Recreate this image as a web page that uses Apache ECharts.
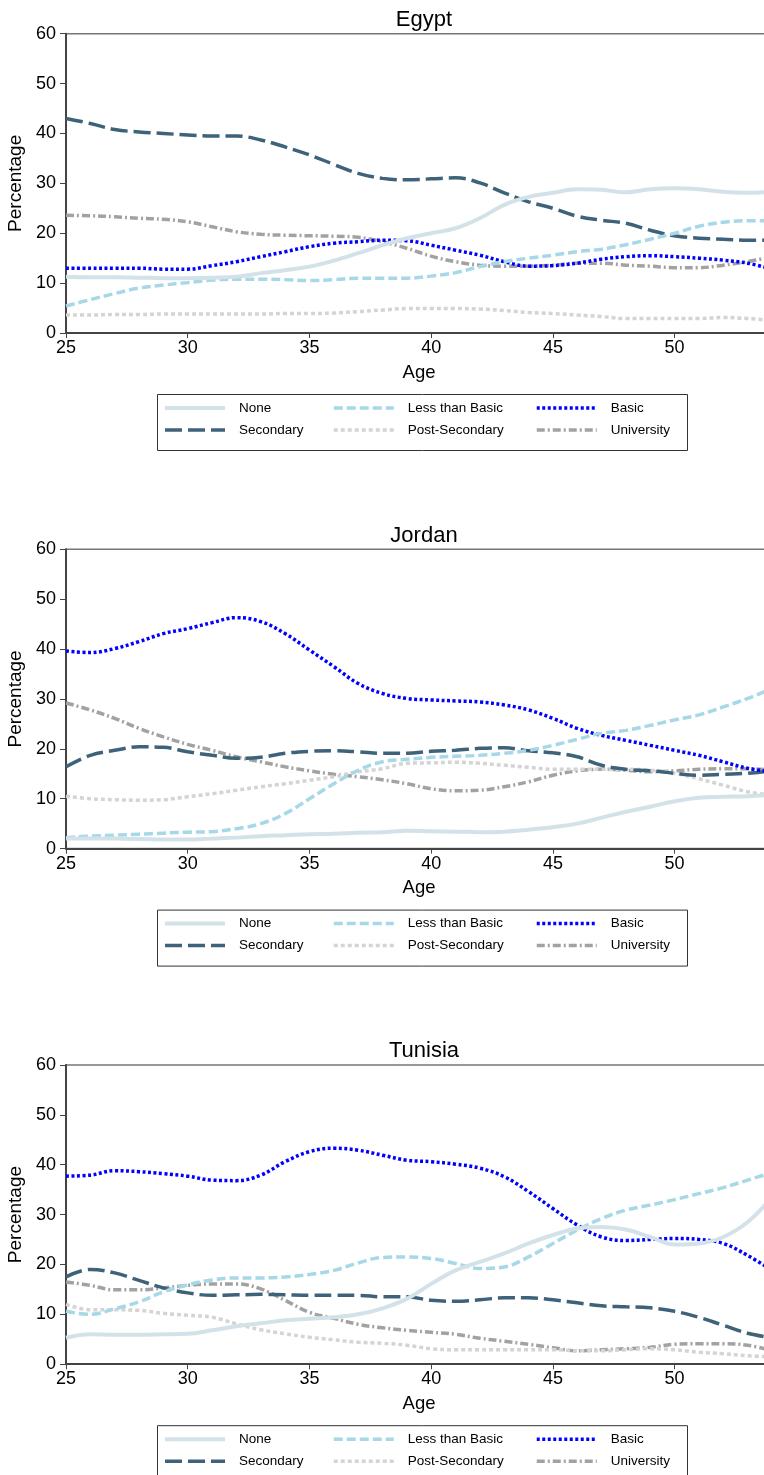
<!DOCTYPE html>
<html>
<head>
<meta charset="utf-8">
<style>
  html, body { margin: 0; padding: 0; background: #fff; }
  #chart { width: 764px; height: 1475px; }
</style>
</head>
<body>
<div id="chart"></div>
<script src="https://cdn.jsdelivr.net/npm/echarts@6/dist/echarts.min.js"></script>
<script>
// ages on the x axis
var ages = [25, 26, 27, 28, 29, 30, 31, 32, 33, 34, 35, 36, 37, 38, 39,
            40, 41, 42, 43, 44, 45, 46, 47, 48, 49, 50, 51, 52, 53, 54];
var countries = ['Egypt', 'Jordan', 'Tunisia'];
var levels = ['None', 'Less than Basic', 'Basic', 'Secondary', 'Post-Secondary', 'University'];

// Egypt
var egyptNone      = [11.3, 11.2, 11.2, 11.1, 11.0, 11.0, 11.1, 11.3, 12.0, 12.6, 13.3, 14.5, 16.0, 17.6, 19.0, 20.0, 21.0, 23.0, 25.7, 27.3, 28.1, 28.8, 28.7, 28.2, 28.8, 29.0, 28.8, 28.3, 28.1, 28.3];
var egyptLessBasic = [5.4, 6.7, 7.9, 9.0, 9.6, 10.1, 10.6, 10.8, 10.8, 10.7, 10.5, 10.7, 11.0, 11.0, 11.0, 11.4, 12.1, 13.3, 14.3, 15.0, 15.6, 16.3, 16.8, 17.7, 18.8, 20.0, 21.4, 22.2, 22.5, 22.5];
var egyptBasic     = [13.0, 13.0, 13.0, 13.0, 12.8, 12.8, 13.5, 14.3, 15.3, 16.3, 17.3, 18.0, 18.3, 18.6, 18.5, 17.6, 16.6, 15.6, 14.3, 13.4, 13.5, 14.0, 14.8, 15.3, 15.5, 15.3, 15.0, 14.6, 14.0, 12.8];
var egyptSecondary = [43.0, 42.0, 40.8, 40.3, 40.0, 39.7, 39.5, 39.5, 38.7, 37.3, 35.7, 33.8, 32.0, 31.0, 30.7, 30.9, 31.1, 30.1, 28.1, 26.3, 25.0, 23.4, 22.6, 22.0, 20.6, 19.5, 19.0, 18.8, 18.6, 18.6];
var egyptPostSec   = [3.6, 3.6, 3.7, 3.7, 3.8, 3.8, 3.8, 3.8, 3.8, 3.9, 3.9, 4.0, 4.3, 4.6, 4.9, 4.9, 4.9, 4.8, 4.5, 4.1, 3.9, 3.6, 3.3, 2.9, 2.9, 2.9, 2.9, 3.1, 2.9, 2.5];
var egyptUniv      = [23.6, 23.5, 23.3, 23.0, 22.8, 22.3, 21.3, 20.3, 19.8, 19.6, 19.5, 19.4, 19.2, 18.3, 17.0, 15.4, 14.3, 13.6, 13.4, 13.4, 13.6, 14.0, 14.0, 13.6, 13.4, 13.1, 13.1, 13.6, 14.3, 15.3];

// Jordan
var jordanNone      = [2.0, 2.0, 2.0, 1.9, 1.8, 1.8, 2.0, 2.2, 2.5, 2.7, 2.9, 3.0, 3.2, 3.3, 3.6, 3.5, 3.4, 3.3, 3.4, 3.8, 4.3, 5.0, 6.2, 7.4, 8.4, 9.5, 10.2, 10.4, 10.5, 10.8];
var jordanLessBasic = [2.2, 2.5, 2.7, 2.9, 3.1, 3.3, 3.4, 4.0, 5.0, 7.0, 10.0, 13.0, 15.7, 17.4, 17.9, 18.3, 18.5, 18.7, 19.1, 19.7, 20.7, 21.9, 23.1, 23.7, 24.7, 25.8, 26.8, 28.4, 30.1, 32.1];
var jordanBasic     = [39.6, 39.3, 40.1, 41.5, 43.1, 44.1, 45.3, 46.3, 45.5, 43.1, 39.8, 36.5, 33.1, 31.1, 30.1, 29.8, 29.6, 29.4, 28.8, 27.8, 26.1, 24.1, 22.7, 21.7, 20.7, 19.7, 18.7, 17.4, 16.1, 15.4];
var jordanSecondary = [16.4, 18.7, 19.7, 20.4, 20.3, 19.4, 18.7, 18.1, 18.3, 19.1, 19.5, 19.6, 19.4, 19.1, 19.1, 19.5, 19.7, 20.1, 20.2, 19.6, 19.2, 18.4, 16.7, 15.9, 15.6, 15.1, 14.7, 14.9, 15.1, 15.6];
var jordanPostSec   = [10.5, 10.0, 9.8, 9.7, 9.8, 10.4, 11.0, 11.7, 12.4, 13.0, 13.7, 14.4, 15.4, 16.0, 17.1, 17.2, 17.3, 17.1, 16.7, 16.3, 15.9, 15.9, 15.9, 15.9, 15.7, 15.1, 14.0, 12.7, 11.4, 10.7];
var jordanUniv      = [29.2, 27.8, 26.1, 24.1, 22.4, 20.9, 19.7, 18.4, 17.4, 16.4, 15.6, 14.9, 14.4, 13.8, 13.0, 12.0, 11.6, 11.7, 12.4, 13.4, 14.7, 15.6, 15.9, 15.7, 15.4, 15.6, 15.9, 16.0, 16.0, 15.7];

// Tunisia
var tunisiaNone      = [5.3, 6.0, 5.9, 5.9, 6.0, 6.1, 6.8, 7.6, 8.2, 8.8, 9.1, 9.4, 10.0, 11.2, 13.1, 16.1, 18.8, 20.5, 22.2, 24.2, 25.9, 27.2, 27.5, 27.0, 25.5, 24.0, 24.2, 25.5, 28.5, 33.5];
var tunisiaLessBasic = [10.6, 10.0, 11.1, 12.5, 14.5, 15.9, 16.9, 17.3, 17.3, 17.5, 18.0, 18.8, 20.3, 21.4, 21.5, 21.2, 20.2, 19.2, 19.5, 21.5, 24.2, 26.9, 29.2, 30.9, 31.9, 33.0, 34.2, 35.4, 36.9, 38.4];
var tunisiaBasic     = [37.7, 37.9, 38.8, 38.6, 38.2, 37.7, 36.9, 36.8, 37.9, 40.6, 42.6, 43.3, 42.9, 41.9, 40.9, 40.6, 40.1, 39.3, 37.6, 34.6, 31.2, 27.9, 25.5, 24.8, 25.0, 25.2, 25.0, 24.2, 21.8, 18.8];
var tunisiaSecondary = [17.5, 19.0, 18.3, 16.8, 15.3, 14.3, 13.8, 13.9, 14.0, 13.9, 13.8, 13.8, 13.8, 13.5, 13.5, 12.8, 12.6, 12.9, 13.3, 13.3, 12.9, 12.3, 11.7, 11.5, 11.3, 10.6, 9.4, 7.8, 6.2, 5.3];
var tunisiaPostSec   = [12.0, 10.9, 10.9, 10.8, 10.2, 9.8, 9.4, 8.1, 6.9, 6.1, 5.4, 4.9, 4.4, 4.2, 3.8, 3.1, 2.9, 2.9, 2.9, 2.9, 2.9, 2.7, 2.7, 2.9, 3.1, 2.9, 2.4, 2.1, 1.7, 1.5];
var tunisiaUniv      = [16.5, 15.8, 14.9, 14.9, 15.3, 15.8, 16.1, 16.1, 15.1, 12.8, 10.4, 9.2, 8.0, 7.3, 6.8, 6.4, 6.0, 5.2, 4.6, 4.0, 3.3, 2.7, 2.9, 3.1, 3.4, 4.0, 4.1, 4.1, 3.8, 2.7];

var yTicks = [0, 10, 20, 30, 40, 50, 60];
var xTicks = [25, 30, 35, 40, 45, 50];

var panelData = [
    [egyptNone, egyptLessBasic, egyptBasic, egyptSecondary, egyptPostSec, egyptUniv],
    [jordanNone, jordanLessBasic, jordanBasic, jordanSecondary, jordanPostSec, jordanUniv],
    [tunisiaNone, tunisiaLessBasic, tunisiaBasic, tunisiaSecondary, tunisiaPostSec, tunisiaUniv]
];

// line look for each education level
var lineLook = {
    'None':            { color: '#d3e2e9', type: 'solid',       width: 4 },
    'Less than Basic': { color: '#a6d8e7', type: [9, 4],        width: 3.5 },
    'Basic':           { color: '#0000ff', type: [3, 2.5],      width: 3.5 },
    'Secondary':       { color: '#3d6279', type: [17, 6],       width: 3.5 },
    'Post-Secondary':  { color: '#d4d4d4', type: [4, 3],        width: 3.5 },
    'University':      { color: '#a2a2a2', type: [8, 3, 2, 3],  width: 3.5 }
};

var FONT = 'Liberation Sans, Arial, Helvetica, sans-serif';
var STEP = 515.6;
var grids = [], xAxes = [], yAxes = [], titles = [], legends = [], series = [], graphics = [];

countries.forEach(function (country, p) {
    var off = p * STEP;
    grids.push({
        left: 66, top: 33.7 + off, width: 706, height: 299.3,
        outerBoundsMode: 'none', containLabel: false,
        show: true, borderColor: '#777', borderWidth: 1.5, backgroundColor: 'transparent'
    });
    titles.push({
        text: country, left: 419, top: 4 + off, textAlign: 'center',
        textStyle: { fontFamily: FONT, fontSize: 22, fontWeight: 'normal', color: '#000' }
    });
    xAxes.push({
        type: 'value', gridIndex: p, min: xTicks[0], max: 54, interval: 5,
        name: 'Age', nameLocation: 'middle', nameGap: 30,
        nameTextStyle: { fontFamily: FONT, fontSize: 18.5, color: '#000' },
        axisLine: { lineStyle: { color: '#444', width: 2 } },
        axisTick: { length: 5, lineStyle: { color: '#444', width: 1 } },
        axisLabel: { fontFamily: FONT, fontSize: 18, color: '#000', margin: 6, showMaxLabel: false },
        splitLine: { show: false }
    });
    yAxes.push({
        type: 'value', gridIndex: p, min: yTicks[0], max: yTicks[yTicks.length - 1], interval: 10,
        name: 'Percentage', nameLocation: 'middle', nameGap: 33,
        nameTextStyle: { fontFamily: FONT, fontSize: 19, color: '#000' },
        axisLine: { show: true, lineStyle: { color: '#444', width: 2 } },
        axisTick: { show: true, length: 6, lineStyle: { color: '#444', width: 1 } },
        axisLabel: { fontFamily: FONT, fontSize: 18, color: '#000', margin: 10 },
        splitLine: { show: false }
    });
    levels.forEach(function (lvl, k) {
        var vals = panelData[p][k];
        var look = lineLook[lvl];
        series.push({
            name: lvl, type: 'line', xAxisIndex: p, yAxisIndex: p,
            data: ages.map(function (a, i) { return [a, vals[i]]; }),
            smooth: 0.4, symbol: 'none', clip: true,
            lineStyle: { color: look.color, type: look.type, width: look.width },
            itemStyle: { color: look.color },
            z: 10 - k
        });
    });
    // legend: three columns, two rows each
    var colX = [163, 332, 535];
    for (var c = 0; c < 3; c++) {
        legends.push({
            data: [levels[c], levels[c + 3]],
            orient: 'vertical', left: colX[c], top: 401 + off,
            padding: 0, itemGap: 8, itemWidth: 60, itemHeight: 14,
            selectedMode: false,
            itemStyle: { opacity: 0 },
            lineStyle: { width: 'inherit' },
            textStyle: { fontFamily: FONT, fontSize: 13.5, color: '#000', padding: [0, 0, 0, 9] }
        });
    }
    graphics.push({
        type: 'rect', left: 155, top: 392 + off,
        shape: { width: 530, height: 56 },
        style: { fill: 'none', stroke: '#333', lineWidth: 1 }
    });
});

var chart = echarts.init(document.getElementById('chart'));
chart.setOption({
    animation: false,
    backgroundColor: '#fff',
    title: titles,
    grid: grids,
    xAxis: xAxes,
    yAxis: yAxes,
    legend: legends,
    series: series,
    graphic: graphics
});
</script>
</body>
</html>
